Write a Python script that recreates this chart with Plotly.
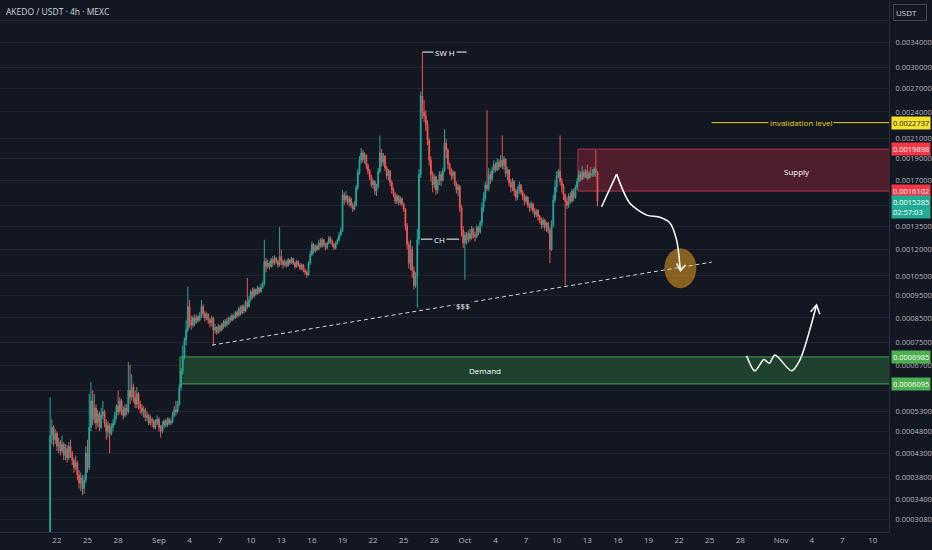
import math
import pandas as pd
import plotly.graph_objects as go

# ---------------- data (prices in units of 1e-7 USDT) ----------------
START = "2025-08-21 08:00"   # first 4h candle
SCALE = 1e-7
OPEN0 = 2850

CLOSE = [
    4700, 4900, 4600, 4750, 4450, 4550, 4350, 4500, 4250, 4400,
    4200, 4450, 4300, 4150, 4000, 4100, 3850, 3700, 3800, 3600,
    3750, 4300, 4000, 4900, 5600, 5100, 5400, 5000, 5250, 4900,
    5200, 5300, 5000, 4800, 4950, 4750, 4900, 5000, 5200, 5450,
    5300, 5600, 5350, 5200, 5400, 5300, 5900, 5700, 6000, 5700,
    5500, 5800, 5500, 5400, 5300, 5350, 5150, 5200, 5000, 5100,
    5050, 4900, 5000, 5100, 4900, 4800, 4950, 5050, 4950, 5100,
    5000, 5050, 5200, 5350, 5300, 5500, 6000, 6500, 7000, 7600,
    8000, 9000, 8400, 8200, 8500, 8300, 8550, 8400, 8600, 9000,
    8700, 8500, 8650, 8400, 8300, 8500, 8000, 8100, 7900, 8150,
    8000, 8250, 8150, 8350, 8250, 8500, 8400, 8600, 8500, 8750,
    8600, 8900, 8700, 9000, 8800, 9200, 9000, 9300, 9700, 9500,
    9800, 9600, 9900, 9700, 9900, 10100, 11300, 11000, 11200, 11000,
    11400, 11200, 11500, 11300, 11100, 11600, 11300, 11100, 11300, 11050,
    11400, 11200, 11450, 11200, 11000, 11300, 11100, 10900, 11100, 10800,
    10700, 10550, 11200, 11700, 12300, 11900, 12200, 12000, 12400, 12200,
    12600, 12300, 12100, 12400, 12700, 12500, 12300, 12100, 12400, 12600,
    12900, 13200, 15800, 15400, 15700, 15200, 15500, 15000, 14700, 15000,
    16400, 17700, 18800, 19500, 18900, 19300, 18300, 17800, 17300, 16600,
    16900, 16100, 16500, 17800, 19500, 18600, 19200, 18100, 17400, 17800,
    16800, 16200, 15800, 15300, 15700, 15200, 15500, 15100, 14700, 13500,
    12300, 11200, 12000, 10800, 10000, 10500, 12600, 17500, 26000, 24000,
    23500, 22500, 20800, 18800, 17500, 16600, 17300, 16200, 16800, 17500,
    17000, 17800, 20500, 19800, 18500, 17900, 17400, 17700, 16700, 16200,
    16500, 14800, 13200, 12400, 12900, 12600, 13000, 12700, 13300, 12900,
    12800, 13400, 13100, 13700, 14800, 15500, 16600, 16300, 17500, 17100,
    17900, 18400, 17900, 18600, 18200, 18800, 18300, 18900, 17600, 17900,
    16800, 16400, 16900, 16100, 15600, 16200, 16600, 16000, 15700, 15300,
    15600, 15000, 14800, 15100, 14600, 14300, 14600, 14200, 13900, 13600,
    13900, 13400, 13700, 13200, 12000, 13600, 15400, 16400, 17400, 17800,
    16900, 16500, 15800, 15300, 15000, 15700, 15300, 16100, 15600, 16400,
    16900, 17500, 17100, 17700, 17300, 17800, 17200, 17600, 17400, 17500,
    18000, 17700, 15285,
]

HIGH = [
    5700, 5100, 4950, 4850, 4800, 4650, 4600, 4700, 4550, 4500,
    4480, 4550, 4600, 4350, 4200, 4250, 4150, 3950, 3900, 3850,
    3850, 4450, 4600, 5800, 6150, 5900, 5800, 5500, 5350, 5300,
    5400, 5600, 5350, 5100, 5050, 5000, 5000, 5100, 5300, 5500,
    5900, 5700, 5650, 5450, 5500, 5500, 6800, 6700, 6400, 6100,
    5900, 6000, 5850, 5600, 5500, 5450, 5400, 5300, 5250, 5200,
    5150, 5100, 5100, 5200, 5150, 4950, 5050, 5100, 5100, 5150,
    5150, 5100, 5300, 5450, 5600, 5600, 6100, 6600, 7400, 7700,
    8400, 9950, 9300, 8600, 8600, 8650, 8650, 8600, 8750, 9300,
    9100, 8800, 8750, 8700, 8500, 8600, 8550, 8250, 8150, 8250,
    8200, 8300, 8400, 8450, 8500, 8550, 8600, 8700, 8650, 8800,
    8850, 9000, 9050, 9100, 9100, 9300, 10400, 9500, 9800, 9900,
    9900, 9850, 10000, 9950, 10100, 10200, 12600, 11500, 11400, 11300,
    11500, 11600, 11650, 11550, 11400, 13450, 12000, 11400, 11450, 11350,
    11500, 11450, 11550, 11500, 11300, 11400, 11350, 11200, 11200, 11150,
    10900, 10800, 11300, 11900, 12500, 12400, 12300, 12300, 12600, 12700,
    12750, 12650, 12400, 12500, 12850, 12800, 12600, 12400, 12500, 12700,
    13100, 13400, 16200, 16000, 16100, 15800, 15700, 15600, 15200, 15300,
    16600, 18000, 19200, 20000, 19800, 19600, 19400, 18500, 18000, 17500,
    17100, 17000, 16700, 18100, 21300, 19900, 19500, 19300, 18300, 18000,
    17900, 17000, 16400, 16000, 15900, 15800, 15700, 15600, 15200, 14800,
    13700, 12500, 12600, 12200, 11000, 10700, 13300, 18000, 26600, 32500,
    25500, 24200, 23000, 21000, 19200, 17800, 17600, 17400, 17100, 17800,
    17800, 18100, 22000, 21000, 20000, 18600, 18100, 17900, 17800, 16900,
    16700, 16600, 15000, 13500, 13100, 13100, 13200, 13300, 13500, 13400,
    13100, 13600, 13500, 13900, 15200, 16000, 16900, 24200, 18100, 17800,
    18200, 18800, 18600, 19000, 18900, 19300, 21300, 19200, 19000, 18200,
    18000, 17100, 17200, 17000, 16300, 16500, 16900, 16700, 16200, 15900,
    15800, 15700, 15200, 15300, 15200, 14800, 14700, 14700, 14300, 14100,
    14100, 14000, 13800, 13800, 13400, 13900, 15800, 17000, 17800, 18000,
    21300, 17200, 16700, 15900, 15600, 15900, 16000, 16300, 16300, 16600,
    17200, 17900, 17800, 18300, 17900, 18000, 18400, 17800, 18200, 18000,
    18200, 19800, 17800,
]

LOW = [
    2800, 4500, 4450, 4500, 4350, 4300, 4250, 4300, 4150, 4150,
    4100, 4150, 4200, 4050, 3900, 3950, 3750, 3600, 3550, 3480,
    3500, 3700, 3900, 3950, 4800, 4950, 5000, 4850, 4900, 4800,
    4850, 5100, 4900, 4600, 4650, 4300, 4700, 4800, 4950, 5100,
    5200, 5250, 5200, 5100, 5150, 5200, 5250, 5500, 5600, 5550,
    5400, 5400, 5350, 5250, 5200, 5150, 5050, 5050, 4950, 4950,
    4900, 4850, 4850, 4950, 4800, 4650, 4750, 4850, 4900, 4900,
    4950, 4950, 5000, 5150, 5200, 5250, 5450, 5900, 6400, 6900,
    7400, 7900, 8100, 8000, 8100, 8150, 8250, 8300, 8350, 8500,
    8500, 8350, 8400, 8250, 8100, 8150, 7400, 7850, 7800, 7850,
    7900, 7950, 8050, 8100, 8150, 8200, 8300, 8350, 8400, 8450,
    8500, 8550, 8600, 8650, 8700, 8750, 8900, 8950, 9250, 9350,
    9400, 9500, 9550, 9600, 9650, 9850, 10000, 10700, 10900, 10850,
    10950, 11000, 11100, 11150, 10950, 11000, 11100, 10900, 11000, 10950,
    11000, 11100, 11150, 11100, 10900, 10950, 11000, 10800, 10800, 10700,
    10550, 10400, 10500, 11100, 11600, 11750, 11800, 11900, 11950, 12100,
    12100, 12150, 11950, 12000, 12300, 12350, 12150, 11950, 12000, 12300,
    12500, 12800, 13100, 15000, 15200, 15000, 14900, 14800, 14500, 14600,
    14900, 16200, 17500, 18500, 18600, 18500, 18000, 17500, 17000, 16400,
    16300, 15800, 15700, 16300, 17600, 18200, 18300, 17800, 17100, 17000,
    16500, 15900, 15600, 15100, 15100, 15000, 15000, 14900, 14500, 13200,
    12000, 10900, 10800, 10400, 9800, 9900, 8950, 12300, 17200, 23200,
    22800, 21800, 20300, 18300, 16900, 16000, 16300, 15800, 15900, 16600,
    16500, 16900, 17700, 19000, 18000, 17500, 17000, 17100, 16500, 15900,
    15700, 14500, 12800, 12100, 10300, 12300, 12400, 12500, 12600, 12700,
    12500, 12700, 12900, 13000, 13500, 14500, 15300, 16100, 16100, 16700,
    16900, 17600, 17700, 17800, 17900, 18100, 18000, 17900, 17300, 17000,
    16500, 16000, 16100, 15700, 15300, 15400, 15900, 15800, 15400, 15000,
    15100, 14800, 14500, 14600, 14400, 14100, 14100, 13900, 13700, 13300,
    13400, 13200, 13100, 13000, 11200, 11900, 13400, 15200, 16000, 17200,
    16600, 16000, 15400, 10000, 14700, 14800, 15100, 15200, 15300, 15500,
    16200, 16800, 16900, 17000, 17100, 17200, 17000, 17100, 17200, 17300,
    17300, 17300, 14900,
]

Y_TICKS = [0.0038, 0.0034, 0.0030, 0.0027, 0.0024, 0.0021, 0.0019, 0.0017,
           0.0015, 0.00135, 0.0012, 0.00105, 0.00095, 0.00085, 0.00075,
           0.00067, 0.00059, 0.00053, 0.00048, 0.00043, 0.00038, 0.00034,
           0.000308]
HIDDEN_TICKS = [0.0038, 0.0015, 0.00059]   # covered by labels in the source

X_TICK_DATES = ["2025-08-22", "2025-08-25", "2025-08-28", "2025-09-01",
                "2025-09-04", "2025-09-07", "2025-09-10", "2025-09-13",
                "2025-09-16", "2025-09-19", "2025-09-22", "2025-09-25",
                "2025-09-28", "2025-10-01", "2025-10-04", "2025-10-07",
                "2025-10-10", "2025-10-13", "2025-10-16", "2025-10-19",
                "2025-10-22", "2025-10-25", "2025-10-28", "2025-11-01",
                "2025-11-04", "2025-11-07", "2025-11-10"]
X_TICK_TEXT = ["22", "25", "28", "Sep", "4", "7", "10", "13", "16", "19",
               "22", "25", "28", "Oct", "4", "7", "10", "13", "16", "19",
               "22", "25", "28", "Nov", "4", "7", "10"]

SUPPLY_TOP, SUPPLY_BOT = 0.0019898, 0.0016102
DEMAND_TOP, DEMAND_BOT = 0.0006985, 0.0006095
INVALIDATION = 0.0022737
LAST_PRICE = 0.0015285
COUNTDOWN = "02:57:03"

# drawings (date, price)
SUPPLY_START = "2025-10-12 02:00"
DEMAND_START = "2025-09-03 01:30"
ZONE_END = "2025-11-20"
TREND = [("2025-09-06 04:50", 0.000741), ("2025-10-25 05:15", 0.001126)]
INVAL_START = "2025-10-25 04:30"
PATH1_UP = [("2025-10-14 09:36", 0.001488), ("2025-10-15 21:00", 0.001754)]
PATH1_DOWN = [("2025-10-15 21:00", 0.001754), ("2025-10-17 04:20", 0.001514),
              ("2025-10-18 19:40", 0.001427), ("2025-10-20 03:00", 0.001411),
              ("2025-10-21 02:30", 0.001371), ("2025-10-21 18:10", 0.001258),
              ("2025-10-22 03:00", 0.001080)]
HEAD1 = [("2025-10-21 18:10", 0.001119), ("2025-10-22 03:20", 0.001078),
         ("2025-10-22 15:00", 0.001109)]
PATH2 = [("2025-10-28 15:00", 0.000702), ("2025-10-29 10:20", 0.000651),
         ("2025-10-30 07:40", 0.000689), ("2025-10-30 20:10", 0.000676),
         ("2025-10-31 09:35", 0.000705), ("2025-11-02 00:45", 0.000651),
         ("2025-11-02 20:10", 0.000687), ("2025-11-04 11:30", 0.000907)]
HEAD2 = [("2025-11-03 21:35", 0.000877), ("2025-11-04 11:30", 0.000907),
         ("2025-11-04 19:15", 0.000866)]
TARGET = ("2025-10-22 03:00", 0.001092)
TARGET_HALF_DAYS = 1.57       # half width of the highlight, in days
TARGET_HALF_LOG = 0.0437      # half height of the highlight, in log10 units
SWH = ("2025-09-26 20:25", "2025-10-01 04:00", "2025-09-29 01:00", 0.003244)
CH = ("2025-09-26 16:30", "2025-09-30 10:35", "2025-09-28 13:10", 0.001264)
LIQ = ("2025-09-30 18:30", 0.000904)
SUPPLY_LABEL = ("2025-11-02 12:30", 0.001781)
DEMAND_LABEL = ("2025-10-02 23:00", 0.0006525)
INVAL_LABEL = "2025-11-02 22:35"

# ---------------- build ----------------
BG = "#131722"
TXT = "#b2b5be"
n = min(len(CLOSE), len(HIGH), len(LOW))
times = pd.date_range(START, periods=n, freq="4h")
close = [v * SCALE for v in CLOSE[:n]]
opens = [OPEN0 * SCALE] + close[:-1]
high = [v * SCALE for v in HIGH[:n]]
low = [v * SCALE for v in LOW[:n]]

fig = go.Figure()

# highlight ellipse behind the arrow tip
c_t = pd.Timestamp(TARGET[0])
c_l = math.log10(TARGET[1])
ex, ey = [], []
for k in range(49):
    a = 2 * math.pi * k / 48
    ex.append(c_t + pd.Timedelta(days=TARGET_HALF_DAYS * math.cos(a)))
    ey.append(10 ** (c_l + TARGET_HALF_LOG * math.sin(a)))
fig.add_trace(go.Scatter(x=ex, y=ey, mode="lines", fill="toself",
                         fillcolor="rgba(230,158,30,0.55)",
                         line=dict(width=0, color="rgba(0,0,0,0)"),
                         hoverinfo="skip", showlegend=False))

fig.add_trace(go.Candlestick(
    x=times, open=opens, high=high, low=low, close=close,
    increasing=dict(line=dict(color="#26a69a", width=1), fillcolor="#26a69a"),
    decreasing=dict(line=dict(color="#ef5350", width=1), fillcolor="#ef5350"),
    hoverinfo="skip", showlegend=False,
))


def add_path(pts, spline=False, width=1.5):
    fig.add_trace(go.Scatter(
        x=[p[0] for p in pts], y=[p[1] for p in pts], mode="lines",
        line=dict(color="#ffffff", width=width,
                  shape="spline" if spline else "linear", smoothing=0.8),
        hoverinfo="skip", showlegend=False))


add_path(PATH1_UP)
add_path(PATH1_DOWN, spline=True)
add_path(HEAD1)
add_path(PATH2, spline=True)
add_path(HEAD2)

shapes = [
    dict(type="rect", xref="x", yref="y", x0=SUPPLY_START, x1=ZONE_END,
         y0=SUPPLY_BOT, y1=SUPPLY_TOP, fillcolor="#4e1e2c",
         line=dict(color="#b23345", width=1), layer="between"),
    dict(type="rect", xref="x", yref="y", x0=DEMAND_START, x1=ZONE_END,
         y0=DEMAND_BOT, y1=DEMAND_TOP, fillcolor="#1f412f",
         line=dict(color="#47a04c", width=1), layer="between"),
    dict(type="line", xref="x", yref="y", x0=TREND[0][0], y0=TREND[0][1],
         x1=TREND[1][0], y1=TREND[1][1],
         line=dict(color="#d1d4dc", width=1, dash="4px,3px")),
    dict(type="line", xref="x", yref="y", x0=INVAL_START, x1=ZONE_END,
         y0=INVALIDATION, y1=INVALIDATION, line=dict(color="#e8d31a", width=1)),
    dict(type="line", xref="x", yref="y", x0=SWH[0], x1=SWH[1], y0=SWH[3],
         y1=SWH[3], line=dict(color="#ffffff", width=1)),
    dict(type="line", xref="x", yref="y", x0=CH[0], x1=CH[1], y0=CH[3],
         y1=CH[3], line=dict(color="#ffffff", width=1)),
]

FONT = "Open Sans"
ann = []


def label(x, y, text, color="#ffffff", size=8, bg=None):
    d = dict(x=x, y=math.log10(y), xref="x", yref="y", text=text,
             showarrow=False, font=dict(family=FONT, size=size, color=color))
    if bg:
        d.update(bgcolor=bg, borderpad=1)
    ann.append(d)


label(SWH[2], SWH[3], "SW H", bg=BG)
label(CH[2], CH[3], "CH", bg=BG)
label(LIQ[0], LIQ[1], "$$$", bg=BG)
label(SUPPLY_LABEL[0], SUPPLY_LABEL[1], "Supply", size=8)
label(DEMAND_LABEL[0], DEMAND_LABEL[1], "Demand", size=8)
label(INVAL_LABEL, INVALIDATION, "invalidation level", color="#e8d31a", bg=BG)


def price_box(v, bg, fg="#ffffff", extra=None):
    text = f"{v:.7f}" + (f"<br>{extra}" if extra else "")
    ann.append(dict(x=1, xref="paper", xanchor="left", xshift=2,
                    y=math.log10(v), yref="y",
                    yanchor="top" if extra else "middle",
                    yshift=6 if extra else 0,
                    text=text, showarrow=False, bgcolor=bg, borderpad=1,
                    width=36, align="left",
                    font=dict(family=FONT, size=7.5, color=fg)))


price_box(INVALIDATION, "#f5e12b", fg="#131722")
price_box(SUPPLY_TOP, "#f23645")
price_box(SUPPLY_BOT, "#f23645")
price_box(LAST_PRICE, "#22ab94", extra=COUNTDOWN)
price_box(DEMAND_TOP, "#4caf50")
price_box(DEMAND_BOT, "#4caf50")

ann.append(dict(x=1, xref="paper", xanchor="left", xshift=4, y=1, yref="paper",
                yanchor="top", yshift=-4, text="USDT", showarrow=False,
                bgcolor=BG, bordercolor="#434651", borderwidth=1, borderpad=2,
                width=28, align="left",
                font=dict(family=FONT, size=8, color="#d1d4dc")))
ann.append(dict(x=0, xref="paper", xanchor="left", xshift=4, y=1, yref="paper",
                yanchor="top", yshift=-4, text="AKEDO / USDT · 4h · MEXC",
                showarrow=False, font=dict(family=FONT, size=8.5, color="#d1d4dc")))

tick_text = ["" if v in HIDDEN_TICKS else f"{v:.7f}" for v in Y_TICKS]

fig.update_layout(
    width=932, height=550, margin=dict(l=0, r=43, t=0, b=18),
    paper_bgcolor=BG, plot_bgcolor=BG, hovermode=False, showlegend=False,
    shapes=shapes, annotations=ann,
    xaxis=dict(type="date", range=["2025-08-16 10:00", "2025-11-11 14:00"],
               rangeslider=dict(visible=False), showgrid=False,
               tickvals=X_TICK_DATES, ticktext=X_TICK_TEXT,
               tickfont=dict(family=FONT, size=8, color=TXT), ticks="",
               showline=True, linecolor="#2a2e39", linewidth=1, zeroline=False),
    yaxis=dict(type="log", side="right", range=[-3.539, -2.375],
               tickvals=Y_TICKS, ticktext=tick_text,
               tickfont=dict(family=FONT, size=7.5, color=TXT), ticks="",
               ticklabelstandoff=4,
               showgrid=True, gridcolor="#1f2330", gridwidth=1,
               showline=True, linecolor="#2a2e39", linewidth=1, zeroline=False),
)

fig.write_html(
    "out.html",
    config={"displayModeBar": False},
    post_script="document.body.style.margin='0px';"
                "document.body.style.padding='0px';"
                "document.documentElement.style.overflow='hidden';"
                "document.body.style.overflow='hidden';",
)
